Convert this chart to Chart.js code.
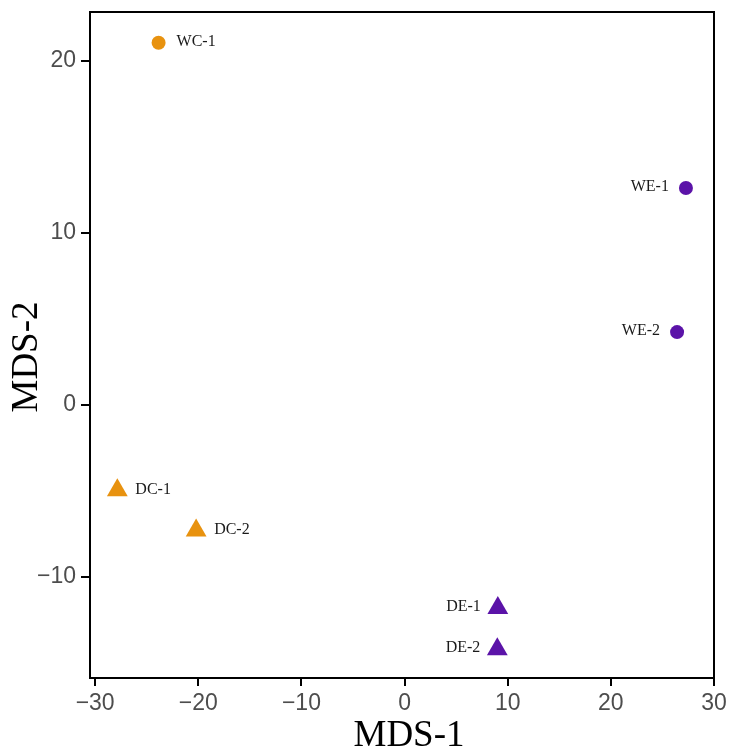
<!DOCTYPE html>
<html>
<head>
<meta charset="utf-8">
<script src="https://cdn.jsdelivr.net/npm/chart.js@4"></script>
<style>
  html, body { margin: 0; padding: 0; background: #fff; }
  #wrap { width: 729px; height: 751px; position: relative; }
</style>
</head>
<body>
<div id="wrap"><canvas id="c" width="729" height="751"></canvas></div>
<script>
// ---- data ----
const sampleNames = ["WC-1", "WE-1", "WE-2", "DC-1", "DC-2", "DE-1", "DE-2"];
const mds1 = [-23.85, 27.28, 26.42, -27.85, -20.21, 9.04, 8.99];
const mds2 = [21.06, 12.62, 4.24, -4.96, -7.30, -11.8, -14.2];
const groupOf = ["WC", "WE", "WE", "DC", "DC", "DE", "DE"];
const labelSide = ["right", "left", "left", "right", "right", "left", "left"];
const xTicks = [-30, -20, -10, 0, 10, 20, 30];
const yTicks = [-10, 0, 10, 20];
const xRange = [-30.5, 30];
const yRange = [-15.87, 22.85];
const xTitle = "MDS-1";
const yTitle = "MDS-2";

// ---- styles ----
const groupStyle = {
  WC: { color: "#E8920F", shape: "circle", r: 7 },
  WE: { color: "#5B13A8", shape: "circle", r: 7 },
  DC: { color: "#E8920F", shape: "triangle", r: 12 },
  DE: { color: "#5B13A8", shape: "triangle", r: 12 }
};

const groups = ["WC", "WE", "DC", "DE"];
const datasets = groups.map(g => {
  const pts = [];
  sampleNames.forEach((n, i) => {
    if (groupOf[i] === g) pts.push({ x: mds1[i], y: mds2[i], name: n, side: labelSide[i] });
  });
  const st = groupStyle[g];
  return {
    label: g,
    data: pts,
    pointStyle: st.shape,
    pointRadius: st.r,
    pointHoverRadius: st.r,
    backgroundColor: st.color,
    borderColor: st.color,
    borderWidth: 0
  };
});

const fmt = v => (v < 0 ? "\u2212" + Math.abs(v) : String(v));
const serif = "'Liberation Serif', 'Times New Roman', serif";

const frame = {
  id: "frame",
  afterDraw(chart) {
    const { ctx, chartArea: a } = chart;
    ctx.save();
    ctx.strokeStyle = "#000";
    ctx.lineWidth = 2;
    ctx.strokeRect(a.left, a.top, a.right - a.left, a.bottom - a.top);
    // axis titles
    ctx.fillStyle = "#000";
    ctx.textAlign = "center";
    ctx.textBaseline = "middle";
    ctx.font = "37px " + serif;
    ctx.fillText(xTitle, (a.left + a.right) / 2 + 7, 736);
    ctx.translate(27, (a.top + a.bottom) / 2 + 12);
    ctx.rotate(-Math.PI / 2);
    ctx.fillText(yTitle, 0, 0);
    ctx.restore();
  }
};

const pointLabels = {
  id: "pointLabels",
  afterDatasetsDraw(chart) {
    const { ctx } = chart;
    const xs = chart.scales.x, ys = chart.scales.y;
    ctx.save();
    ctx.font = "16px " + serif;
    ctx.fillStyle = "#1a1a1a";
    ctx.textBaseline = "middle";
    chart.data.datasets.forEach(ds => {
      ds.data.forEach(p => {
        const px = xs.getPixelForValue(p.x);
        const py = ys.getPixelForValue(p.y);
        if (p.side === "right") {
          ctx.textAlign = "left";
          ctx.fillText(p.name, px + 18, py - 1);
        } else {
          ctx.textAlign = "right";
          ctx.fillText(p.name, px - 17, py - 1);
        }
      });
    });
    ctx.restore();
  }
};

const tickFont = { family: "'Liberation Sans', Arial, sans-serif", size: 23 };

new Chart(document.getElementById("c"), {
  type: "scatter",
  data: { datasets },
  options: {
    responsive: false,
    animation: false,
    events: [],
    layout: { padding: { top: 12, right: 15, left: 0, bottom: 0 } },
    plugins: { legend: { display: false }, tooltip: { enabled: false } },
    scales: {
      x: {
        type: "linear",
        min: xRange[0],
        max: xRange[1],
        afterBuildTicks: s => { s.ticks = xTicks.map(v => ({ value: v })); },
        afterFit: s => { s.height = 73; s.paddingLeft = 0; s.paddingRight = 0; },
        ticks: { color: "#4D4D4D", font: tickFont, padding: 4, maxRotation: 0, callback: v => fmt(v) },
        grid: { display: true, drawOnChartArea: false, drawTicks: true, tickLength: 8, color: "#000", lineWidth: 2 },
        border: { display: true, color: "#000", width: 2 },
        title: { display: false }
      },
      y: {
        type: "linear",
        min: yRange[0],
        max: yRange[1],
        afterBuildTicks: s => { s.ticks = yTicks.map(v => ({ value: v })); },
        afterFit: s => { s.width = 90; s.paddingTop = 0; s.paddingBottom = 0; },
        ticks: { color: "#4D4D4D", font: tickFont, padding: 5, callback: v => fmt(v) },
        grid: { display: true, drawOnChartArea: false, drawTicks: true, tickLength: 9, color: "#000", lineWidth: 2 },
        border: { display: true, color: "#000", width: 2 },
        title: { display: false }
      }
    }
  },
  plugins: [frame, pointLabels]
});
</script>
</body>
</html>
